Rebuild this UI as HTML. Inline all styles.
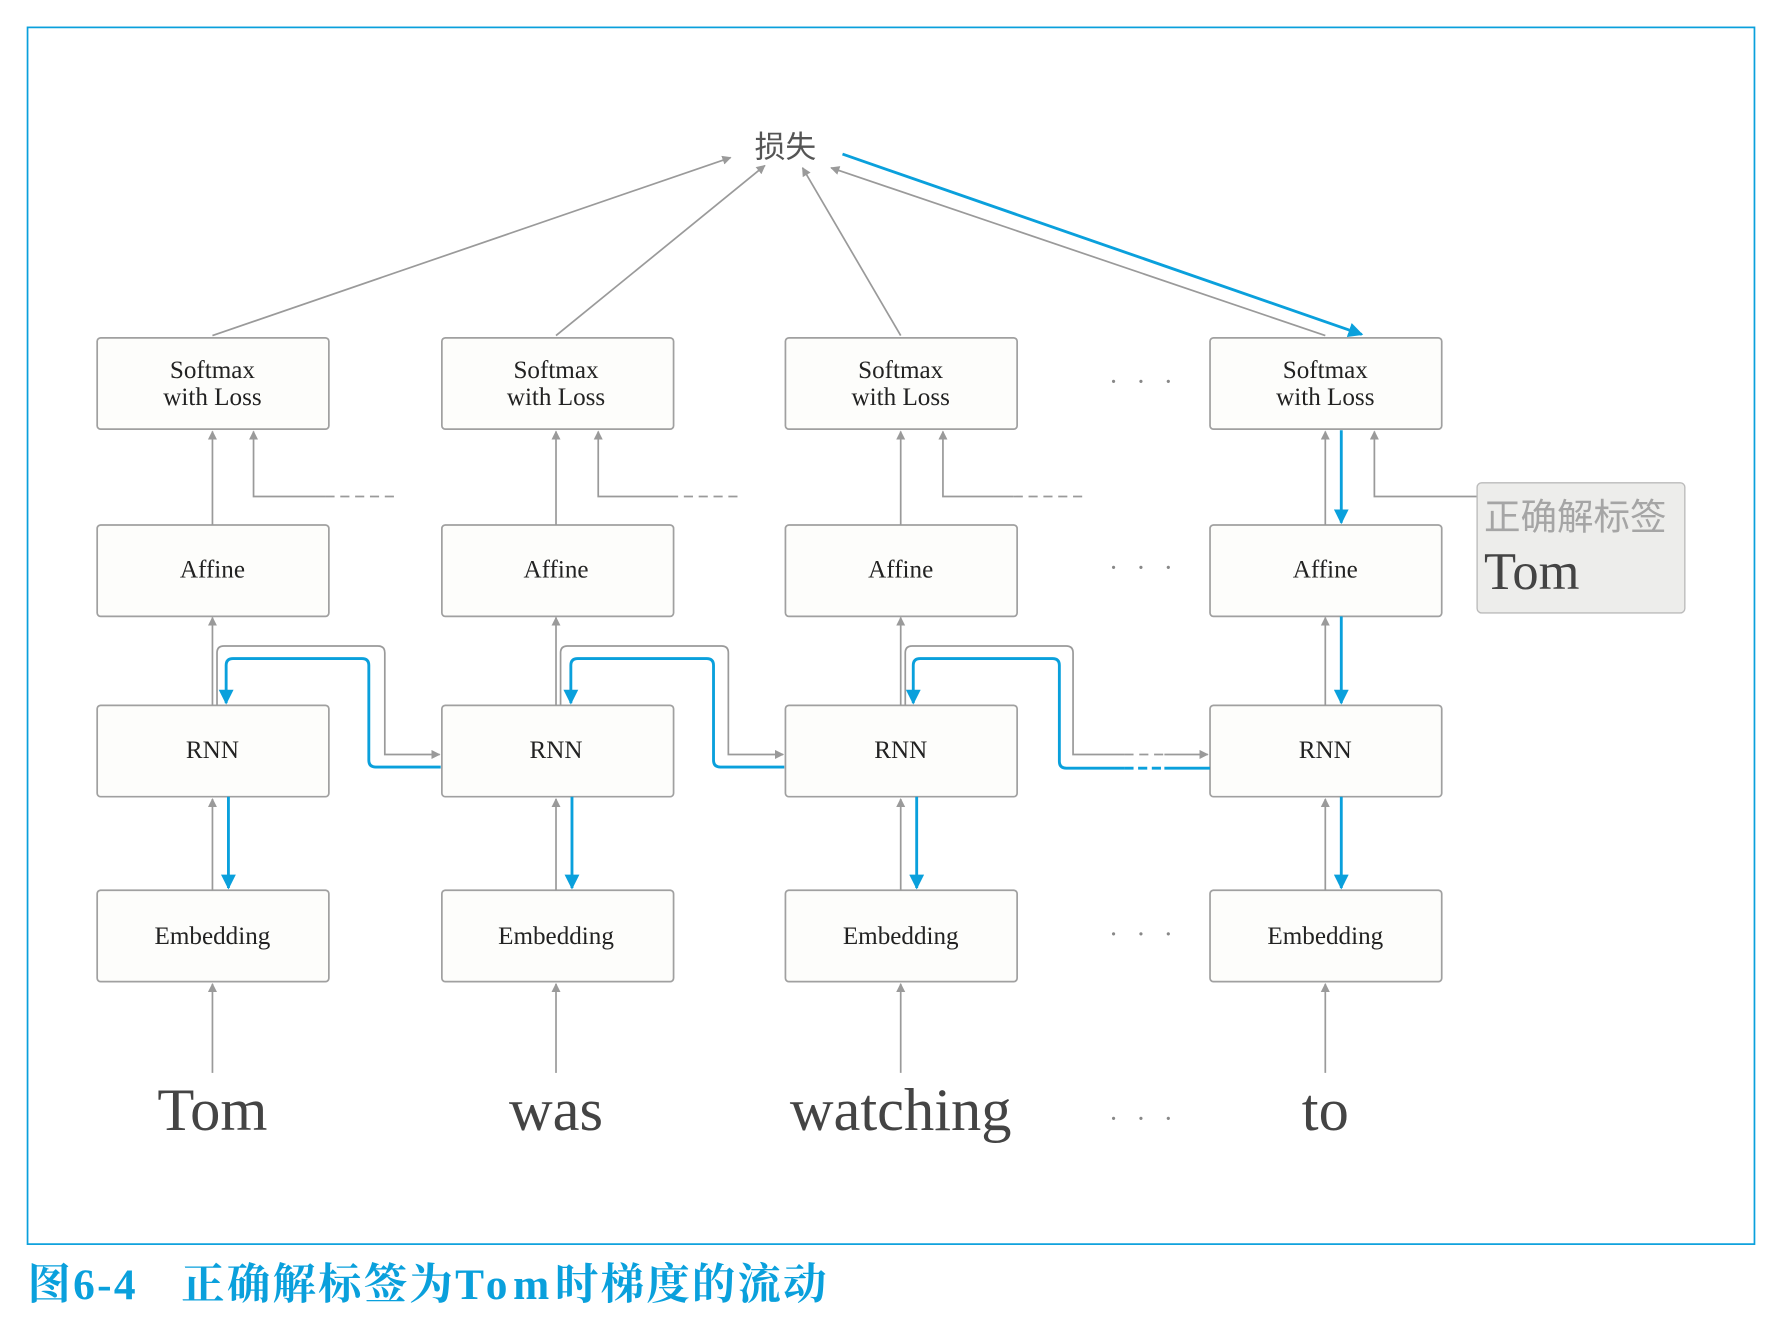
<!DOCTYPE html>
<html><head><meta charset="utf-8"><style>
html,body{margin:0;padding:0;background:#fff;}
svg{display:block;}
.b{fill:#fdfdfb;stroke:#a0a0a0;stroke-width:1.5;}
.t{font-family:"Liberation Serif",serif;font-size:22px;fill:#222;text-anchor:middle;}
.g{stroke:#9a9a9a;stroke-width:1.5;fill:none;}
.bl{stroke:#0aa0dc;stroke-width:2.5;fill:none;}
.w{font-family:"Liberation Serif",serif;font-size:53px;fill:#444;text-anchor:middle;}
.d{font-family:"Liberation Serif",serif;font-size:24px;fill:#888;text-anchor:middle;letter-spacing:5px;}
</style></head><body>
<svg width="1790" height="1332" viewBox="0 0 1568 1167" xmlns="http://www.w3.org/2000/svg">
<defs>
<marker id="ag" viewBox="0 0 10 10" refX="9" refY="5" markerWidth="8" markerHeight="8" markerUnits="userSpaceOnUse" orient="auto"><path d="M0,0L10,5L0,10z" fill="#9a9a9a"/></marker>
<marker id="ab" viewBox="0 0 10 10" refX="9" refY="5" markerWidth="13" markerHeight="13" markerUnits="userSpaceOnUse" orient="auto"><path d="M0,0L10,5L0,10z" fill="#0aa0dc"/></marker>
</defs>
<rect x="24" y="24" width="1513" height="1066" fill="none" stroke="#0aa0dc" stroke-width="1.5"/>
<text x="688" y="138" font-family="Noto Sans CJK SC,sans-serif" font-size="27" fill="#555" text-anchor="middle">损失</text>
<line class="g" x1="186" y1="294" x2="640" y2="138" marker-end="url(#ag)"/>
<line class="g" x1="487" y1="294" x2="670" y2="145" marker-end="url(#ag)"/>
<line class="g" x1="789" y1="294" x2="703" y2="147" marker-end="url(#ag)"/>
<line class="g" x1="1161" y1="294" x2="728" y2="147" marker-end="url(#ag)"/>
<line class="bl" x1="738" y1="135" x2="1193" y2="293" marker-end="url(#ab)"/>
<g>
<rect class="b" x="85" y="296" width="203" height="80" rx="3"/><rect class="b" x="387" y="296" width="203" height="80" rx="3"/><rect class="b" x="688" y="296" width="203" height="80" rx="3"/><rect class="b" x="1060" y="296" width="203" height="80" rx="3"/>
<rect class="b" x="85" y="460" width="203" height="80" rx="3"/><rect class="b" x="387" y="460" width="203" height="80" rx="3"/><rect class="b" x="688" y="460" width="203" height="80" rx="3"/><rect class="b" x="1060" y="460" width="203" height="80" rx="3"/>
<rect class="b" x="85" y="618" width="203" height="80" rx="3"/><rect class="b" x="387" y="618" width="203" height="80" rx="3"/><rect class="b" x="688" y="618" width="203" height="80" rx="3"/><rect class="b" x="1060" y="618" width="203" height="80" rx="3"/>
<rect class="b" x="85" y="780" width="203" height="80" rx="3"/><rect class="b" x="387" y="780" width="203" height="80" rx="3"/><rect class="b" x="688" y="780" width="203" height="80" rx="3"/><rect class="b" x="1060" y="780" width="203" height="80" rx="3"/>
</g>
<g class="t">
<text x="186" y="331">Softmax</text><text x="186" y="355">with Loss</text>
<text x="487" y="331">Softmax</text><text x="487" y="355">with Loss</text>
<text x="789" y="331">Softmax</text><text x="789" y="355">with Loss</text>
<text x="1161" y="331">Softmax</text><text x="1161" y="355">with Loss</text>
<text x="186" y="506">Affine</text><text x="487" y="506">Affine</text><text x="789" y="506">Affine</text><text x="1161" y="506">Affine</text>
<text x="186" y="664">RNN</text><text x="487" y="664">RNN</text><text x="789" y="664">RNN</text><text x="1161" y="664">RNN</text>
<text x="186" y="827">Embedding</text><text x="487" y="827">Embedding</text><text x="789" y="827">Embedding</text><text x="1161" y="827">Embedding</text>
</g>
<g class="d"><text x="1002" y="342">· · ·</text><text x="1002" y="505">· · ·</text><text x="1002" y="826">· · ·</text><text x="1002" y="988">· · ·</text></g>
<g class="g" marker-end="url(#ag)">
<line x1="186" y1="460" x2="186" y2="378"/><line x1="487" y1="460" x2="487" y2="378"/><line x1="789" y1="460" x2="789" y2="378"/><line x1="1161" y1="460" x2="1161" y2="378"/>
<line x1="186" y1="618" x2="186" y2="541"/><line x1="487" y1="618" x2="487" y2="541"/><line x1="789" y1="618" x2="789" y2="541"/><line x1="1161" y1="618" x2="1161" y2="541"/>
<line x1="186" y1="780" x2="186" y2="700"/><line x1="487" y1="780" x2="487" y2="700"/><line x1="789" y1="780" x2="789" y2="700"/><line x1="1161" y1="780" x2="1161" y2="700"/>
<line x1="186" y1="940" x2="186" y2="862"/><line x1="487" y1="940" x2="487" y2="862"/><line x1="789" y1="940" x2="789" y2="862"/><line x1="1161" y1="940" x2="1161" y2="862"/>
<polyline points="285,435 222,435 222,378"/><polyline points="586,435 524,435 524,378"/><polyline points="888,435 826,435 826,378"/><polyline points="1294,435 1204,435 1204,378"/>
<path d="M190,618 V572 Q190,566 196,566 H331 Q337,566 337,572 V661 H385"/>
<path d="M491,618 V572 Q491,566 497,566 H632 Q638,566 638,572 V661 H686"/>
<path d="M793,618 V572 Q793,566 799,566 H934 Q940,566 940,572 V661 H985 M1020,661 H1058"/>
</g>
<g class="g" stroke-dasharray="8,5"><line x1="285" y1="435" x2="345" y2="435"/><line x1="586" y1="435" x2="646" y2="435"/><line x1="888" y1="435" x2="948" y2="435"/><line x1="985" y1="661" x2="1020" y2="661"/></g>
<g class="bl" marker-end="url(#ab)">
<line x1="1175" y1="377" x2="1175" y2="458"/>
<line x1="1175" y1="540" x2="1175" y2="616"/>
<line x1="1175" y1="698" x2="1175" y2="778"/>
<line x1="200" y1="698" x2="200" y2="778"/><line x1="501" y1="698" x2="501" y2="778"/><line x1="803" y1="698" x2="803" y2="778"/>
<path d="M386,672 H329 Q323,672 323,666 V583 Q323,577 317,577 H204 Q198,577 198,583 V616"/>
<path d="M687,672 H631 Q625,672 625,666 V583 Q625,577 619,577 H506 Q500,577 500,583 V616"/>
<path d="M985,673 H934 Q928,673 928,667 V583 Q928,577 922,577 H806 Q800,577 800,583 V616"/>
</g>
<line class="bl" x1="1020" y1="673" x2="1060" y2="673"/>
<line class="bl" x1="985" y1="673" x2="1020" y2="673" stroke-dasharray="8,4"/>
<rect x="1294" y="423" width="182" height="114" rx="4" fill="#ededeb" stroke="#bbb" stroke-width="1.2"/>
<text x="1300" y="464" font-family="Noto Sans CJK SC,sans-serif" font-size="32" fill="#a5a5a5">正确解标签</text>
<text x="1300" y="516" font-family="Liberation Serif,serif" font-size="46" fill="#444">Tom</text>
<g class="w"><text x="186" y="990">Tom</text><text x="487" y="990">was</text><text x="789" y="990">watching</text><text x="1161" y="990">to</text></g>
<text x="24" y="1138" font-family="Liberation Serif,Noto Serif CJK SC,serif" font-weight="bold" font-size="38" fill="#0aa0dc" letter-spacing="2">图6-4<tspan dx="38">正确解标签为</tspan><tspan letter-spacing="5">Tom</tspan><tspan>时梯度的流动</tspan></text>
</svg>
</body></html>
